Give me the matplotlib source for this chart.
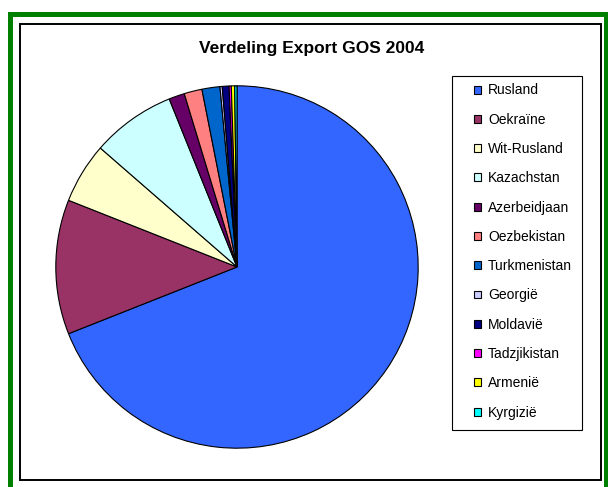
import matplotlib.pyplot as plt
from matplotlib.patches import Rectangle, Patch

# Export shares per country (percent)
countries = ['Rusland', 'Oekraïne', 'Wit-Rusland', 'Kazachstan', 'Azerbeidjaan',
             'Oezbekistan', 'Turkmenistan', 'Georgië', 'Moldavië', 'Tadzjikistan',
             'Armenië', 'Kyrgizië']
shares = [69.0, 12.0, 5.4, 7.5, 1.4, 1.6, 1.6, 0.2, 0.6, 0.2, 0.3, 0.2]
colors = ['#3366FF', '#993366', '#FFFFCC', '#CCFFFF', '#660066', '#FF8080',
          '#0066CC', '#CCCCFF', '#000080', '#FF00FF', '#FFFF00', '#00FFFF']

plt.rcParams['font.family'] = ['Liberation Sans', 'DejaVu Sans']

W, H = 608, 487
fig = plt.figure(figsize=(W / 100, H / 100), dpi=100)

def px_rect(x0, y0, x1, y1, **kw):
    # rectangle given in pixel coords (origin top-left)
    return Rectangle((x0 / W, 1 - y1 / H), (x1 - x0) / W, (y1 - y0) / H,
                     transform=fig.transFigure, fill=False, **kw)

# green outer frame and black chart frame
fig.add_artist(px_rect(9.5, 13.5, 606, 495, edgecolor='#008000', linewidth=3.6))
fig.add_artist(px_rect(19.5, 23.5, 600.5, 479.5, edgecolor='black', linewidth=1.4))
# legend box
fig.add_artist(px_rect(451.5, 75.5, 581.5, 429.5, edgecolor='black', linewidth=0.8))

# pie, center (237, 267) radius 183 px
cx, cy, r = 237, 267, 183
ax = fig.add_axes([(cx - r) / W, 1 - (cy + r) / H, 2 * r / W, 2 * r / H])
ax.pie(shares, colors=colors, startangle=90, counterclock=False,
       wedgeprops=dict(edgecolor='black', linewidth=0.8))
ax.set_xlim(-1.01, 1.01)
ax.set_ylim(-1.01, 1.01)
ax.set_aspect('equal')

fig.text(312 / W, 1 - 48 / H, 'Verdeling Export GOS 2004', ha='center', va='center',
         fontsize=12.5, fontweight='bold')

# legend entries
handles = [Patch(facecolor=c, edgecolor='black', linewidth=0.8) for c in colors]
leg = fig.legend(handles, countries, loc='upper left',
                 bbox_to_anchor=(474 / W, 1 - 83.5 / H), bbox_transform=fig.transFigure,
                 fontsize=10, frameon=False,
                 handlelength=0.5, handleheight=0.5, handletextpad=0.5,
                 labelspacing=1.1, borderpad=0, borderaxespad=0)

fig.savefig('out.png', dpi=100)
